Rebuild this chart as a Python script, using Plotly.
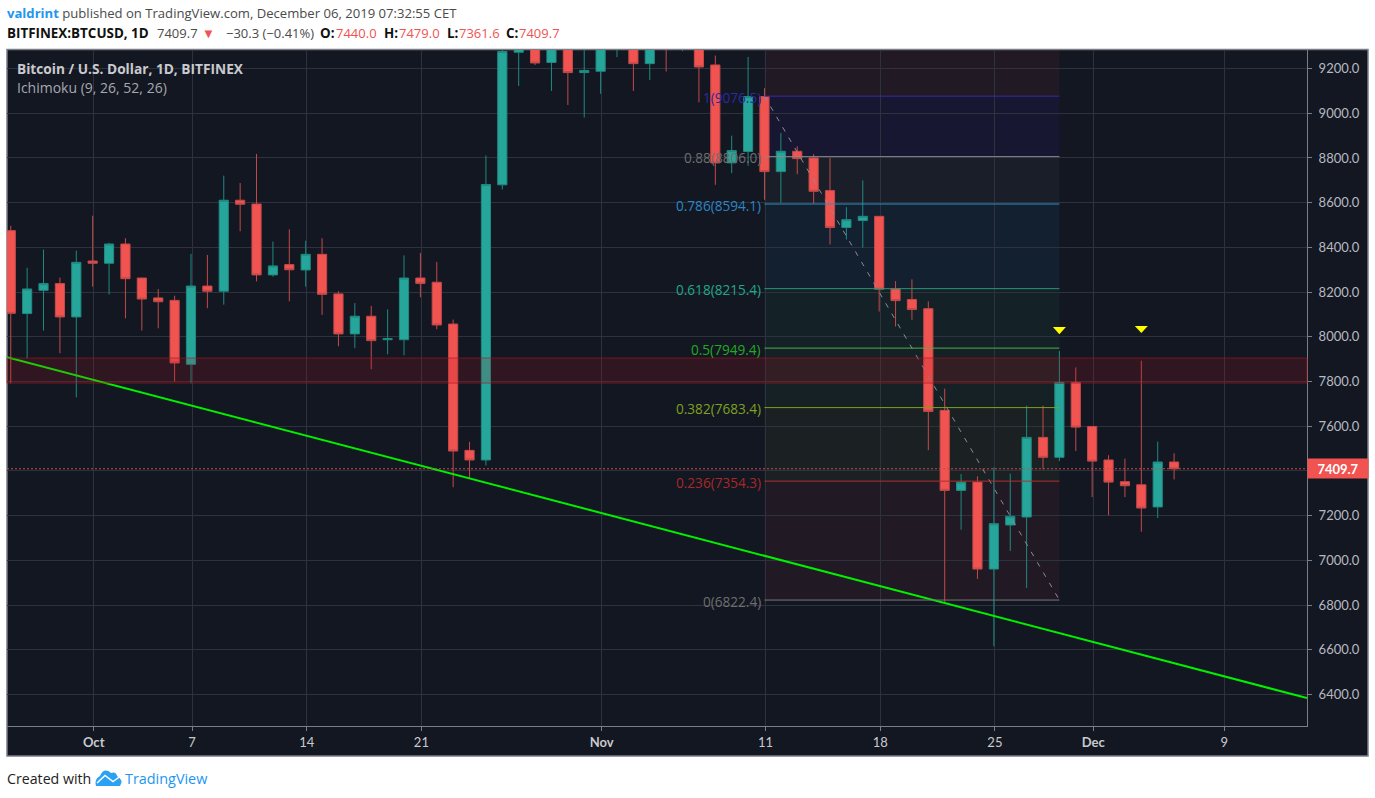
import plotly.graph_objects as go
import pandas as pd

start_date = "2019-09-26"
opens = [8475,8104,8208,8238,8089,8339,8329,8415,8263,8174,8163,7877,8227,8204,8611,8594,8277,8323,
         8299,8369,8192,8013,8092,7987,7987,8263,8244,8057,7492,7449,8680,9273,9500,9227,9400,9182,
         9188,9300,9320,9222,9400,9300,9350,9216,8778,8829,9075,8739,8830,8800,8654,8489,8520,8539,
         8214,8167,8126,7671,7313,7350,6961,7158,7194,7550,7461,7796,7599,7449,7352,7338,7239,7440]
highs = [8497,8309,8390,8265,8385,8542,8421,8441,8264,8214,8184,8371,8366,8721,8688,8818,8426,8481,
         8430,8441,8204,8151,8138,8123,8364,8375,8335,8077,7530,8811,9600,9700,9700,9500,9500,9400,
         9350,9400,9400,9500,9500,9450,9400,9258,8900,9252,9112,8912,8852,8817,8800,8580,8700,8539,
         8249,8257,8158,7768,7386,7376,7416,7388,7692,7692,7937,7863,7599,7470,7455,7893,7531,7479]
lows = [7792,7904,8028,7926,7729,8224,8189,8083,8028,8038,7801,7792,8128,8144,8472,8248,8269,8159,
        8224,8098,7958,7949,7855,7922,7917,8177,8034,7327,7364,7424,8659,9122,9216,9100,9037,8981,
        9087,9251,9100,9149,9187,9278,9049,8680,8732,8765,8613,8599,8727,8596,8413,8435,8399,8113,
        8046,8076,7493,6814,7137,6917,6616,7042,6877,7407,7444,7489,7283,7201,7283,7128,7189,7362]
closes = [8105,8214,8238,8089,8333,8329,8415,8260,8169,8157,7883,8227,8204,8611,8593,8277,8317,8300,
          8369,8190,8013,8092,7983,7992,8263,8239,8053,7489,7449,8681,9276,9500,9225,9400,9182,9191,
          9300,9320,9222,9400,9300,9350,9207,8778,8833,9075,8739,8830,8797,8651,8489,8524,8539,8213,
          8162,8122,7666,7313,7350,6961,7164,7197,7550,7461,7796,7596,7444,7350,7334,7234,7440,7409.7]
dates = pd.date_range(start_date, periods=len(opens), freq="D").strftime("%Y-%m-%d").tolist()

price_ticks = [6400,6600,6800,7000,7200,7400,7600,7800,8000,8200,8400,8600,8800,9000,9200]
date_ticks = ["2019-10-01","2019-10-07","2019-10-14","2019-10-21","2019-11-01","2019-11-11",
              "2019-11-18","2019-11-25","2019-12-01","2019-12-09"]
date_labels = ["<b>Oct</b>","7","14","21","<b>Nov</b>","11","18","25","<b>Dec</b>","9"]

fib_ratio = ["1","0.88","0.786","0.618","0.5","0.382","0.236","0"]
fib_price = [9076.5,8806.0,8594.1,8215.4,7949.4,7683.4,7354.3,6822.4]
fib_label_color = ["#2a2aa0","#6e6e6e","#2a86c4","#1fa888","#22ab22","#7fa020","#a82828","#6e6e6e"]
fib_line_color = ["#3a2aa8","#8a8a8a","#2f8fc4","#2a9a78","#4caf50","#7fa020","#b03030","#787878"]
fib_fill_color = ["rgba(70,30,180,0.11)","rgba(130,130,130,0.07)","rgba(33,150,243,0.07)",
                  "rgba(38,166,120,0.08)","rgba(76,175,80,0.07)","rgba(140,170,40,0.07)",
                  "rgba(200,50,60,0.08)"]
fib_top_fill = "rgba(200,50,60,0.08)"
fib_top_price = 9300
fib_start = "2019-11-11"
fib_end = "2019-11-29"

band_low, band_high = 7793, 7905
trend_dates = ["2019-09-25 18:30","2019-12-14 02:40"]
trend_prices = [7909,6384]
arrow_dates = ["2019-11-29","2019-12-04"]
arrow_tops = [8044,8048]
arrow_tips = [8012,8017]
last_close = closes[-1]

# second header line: text, left edge on the page, colour, bold
header_parts = [("BITFINEX:BTCUSD, 1D", 5, "#111111", True), ("7409.7", 155, "#4a4a4a", False),
                ("▼", 200, "#f05350", False), ("−30.3 (−0.41%)", 224, "#4a4a4a", False),
                ("O:", 318, "#111111", True), ("7440.0", 334, "#f05350", False),
                ("H:", 382, "#111111", True), ("7479.0", 397, "#f05350", False),
                ("L:", 445, "#111111", True), ("7361.6", 457, "#f05350", False),
                ("C:", 504, "#111111", True), ("7409.7", 517, "#f05350", False)]

BG = "#131722"
GRID = "#2e323e"
FRAME = "#7b7e87"
W, H = 1375, 798
L, R, T, B = 7, 1307, 50, 726
def px(x): return (x - L) / (R - L)
def py(y): return (B - y) / (B - T)

fig = go.Figure()
fig.add_trace(go.Candlestick(
    x=dates, open=opens, high=highs, low=lows, close=closes,
    increasing=dict(fillcolor="#26a69a", line=dict(color="#1f8a80", width=1)),
    decreasing=dict(fillcolor="#f05350", line=dict(color="#c44a4a", width=1)),
    whiskerwidth=0, hoverinfo="skip", showlegend=False))
fig.add_trace(go.Scatter(x=[fib_start, fib_end], y=[fib_price[0], fib_price[-1]], mode="lines",
    line=dict(color="#8a8d96", width=1, dash="5px,7px"), hoverinfo="skip", showlegend=False))
fig.add_trace(go.Scatter(x=trend_dates, y=trend_prices, mode="lines",
    line=dict(color="#00f000", width=2), hoverinfo="skip", showlegend=False))
for d, top, tip in zip(arrow_dates, arrow_tops, arrow_tips):
    t = pd.Timestamp(d)
    off = pd.Timedelta(hours=9.5)
    fig.add_trace(go.Scatter(x=[t - off, t + off, t, t - off], y=[top, top, tip, top], mode="lines",
        fill="toself", fillcolor="#ffff00", line=dict(color="#ffff00", width=0),
        hoverinfo="skip", showlegend=False))

shapes = []
shapes.append(dict(type="rect", xref="paper", yref="paper", x0=px(7), x1=px(1368), y0=py(756), y1=py(49.5),
                   fillcolor=BG, line=dict(color=FRAME, width=1.5), layer="below"))
shapes.append(dict(type="rect", xref="x", yref="y", x0=fib_start, x1=fib_end, y0=fib_price[0], y1=fib_top_price,
                   fillcolor=fib_top_fill, line=dict(width=0), layer="below"))
for i, col in enumerate(fib_fill_color):
    shapes.append(dict(type="rect", xref="x", yref="y", x0=fib_start, x1=fib_end,
                       y0=fib_price[i + 1], y1=fib_price[i], fillcolor=col, line=dict(width=0), layer="below"))
for p, col in zip(fib_price, fib_line_color):
    shapes.append(dict(type="line", xref="x", yref="y", x0=fib_start, x1=fib_end, y0=p, y1=p,
                       line=dict(color=col, width=1), layer="above"))
shapes.append(dict(type="rect", xref="paper", yref="y", x0=0, x1=1, y0=band_low, y1=band_high,
                   fillcolor="rgba(190,20,30,0.17)", line=dict(color="rgba(170,20,28,0.6)", width=1), layer="above"))
shapes.append(dict(type="line", xref="paper", yref="y", x0=0, x1=1, y0=last_close, y1=last_close,
                   line=dict(color="#c94b4b", width=1, dash="2px,2px"), layer="above"))
# footer logo: cloud with a white zigzag
shapes.append(dict(type="path", xref="paper", yref="paper",
    path="M {} {} Q {} {} {} {} Q {} {} {} {} Q {} {} {} {} Q {} {} {} {} L {} {} Z".format(
        px(96), py(786), px(94), py(779), px(100), py(776), px(104), py(767), px(111), py(773),
        px(116), py(771), px(117), py(776), px(124), py(780), px(120), py(786), px(96), py(786)),
    fillcolor="#2aa1f2", line=dict(width=0), layer="above"))
shapes.append(dict(type="path", xref="paper", yref="paper",
    path="M {} {} L {} {} L {} {} L {} {}".format(px(97), py(783), px(105), py(775.5), px(113), py(781.5), px(120), py(776.5)),
    line=dict(color="#ffffff", width=1.5), layer="above"))

ann = []
ann.append(dict(xref="paper", yref="paper", x=px(5), y=py(13), xanchor="left", yanchor="middle", showarrow=False,
    font=dict(family="Open Sans", size=13.1, color="#4a4a4a"),
    text='<b><span style="color:#2196f3">valdrint</span></b> published on TradingView.com, December 06, 2019 07:32:55 CET'))
for text, left, col, bold in header_parts:
    ann.append(dict(xref="paper", yref="paper", x=px(left), y=py(33), xanchor="left", yanchor="middle", showarrow=False,
        font=dict(family="Open Sans", size=13.4 if bold else 13, color=col), text="<b>%s</b>" % text if bold else text))
ann.append(dict(xref="paper", yref="paper", x=px(15), y=py(68), xanchor="left", yanchor="middle", showarrow=False,
    font=dict(family="Open Sans", size=13.7, color="#c9cacd"), text="<b>Bitcoin / U.S. Dollar, 1D, BITFINEX</b>"))
ann.append(dict(xref="paper", yref="paper", x=px(15), y=py(87), xanchor="left", yanchor="middle", showarrow=False,
    font=dict(family="Open Sans", size=14, color="#a6a8ae"), text="Ichimoku (9, 26, 52, 26)"))
ann.append(dict(xref="paper", yref="paper", x=px(5), y=py(778), xanchor="left", yanchor="middle", showarrow=False,
    font=dict(family="Open Sans", size=14.2, color="#222222"), text="Created with"))
ann.append(dict(xref="paper", yref="paper", x=px(123), y=py(778), xanchor="left", yanchor="middle", showarrow=False,
    font=dict(family="Open Sans", size=14.4, color="#2196f3"), text="TradingView"))
ann.append(dict(xref="paper", yref="y", x=px(1338), y=last_close, xanchor="center", yanchor="middle", showarrow=False,
    font=dict(family="Lato", size=13, color="#ffffff"), text="<b>%.1f</b>" % last_close,
    bgcolor="#f05350", width=58, height=17, borderpad=1))
for r, p, c in zip(fib_ratio, fib_price, fib_label_color):
    ann.append(dict(xref="x", yref="y", x=fib_start, y=p, xanchor="right", yanchor="middle", xshift=-1, yshift=-1, showarrow=False,
        font=dict(family="Open Sans", size=13.6, color=c), text="%s(%.1f)" % (r, p)))

fig.update_layout(
    width=W, height=H, margin=dict(l=L, r=W - R, t=T, b=H - B, pad=0, autoexpand=False),
    paper_bgcolor="#ffffff", plot_bgcolor=BG, showlegend=False, hovermode=False,
    shapes=shapes, annotations=ann, boxgap=0.2,
    xaxis=dict(type="date", range=["2019-09-25 18:30","2019-12-14 02:40"], rangeslider=dict(visible=False),
        tickmode="array", tickvals=[d + " 01:30" for d in date_ticks], ticktext=date_labels,
        showgrid=True, gridcolor=GRID, gridwidth=1, showline=True, linecolor=FRAME, linewidth=1,
        ticks="outside", ticklen=4, tickcolor=FRAME, zeroline=False,
        tickfont=dict(family="Lato", size=13, color="#c9cacd")),
    yaxis=dict(range=[6259, 9283], side="right", tickmode="array", tickvals=price_ticks,
        ticktext=["%.1f" % v for v in price_ticks], showgrid=True, gridcolor=GRID, gridwidth=1,
        showline=True, linecolor=FRAME, linewidth=1, ticks="outside", ticklen=4, tickcolor=FRAME,
        zeroline=False, ticklabelstandoff=4, tickfont=dict(family="Lato", size=13, color="#b8bac0")),
)
fig.write_html("out.html", config=dict(displayModeBar=False),
               post_script="document.body.style.margin='0';")
